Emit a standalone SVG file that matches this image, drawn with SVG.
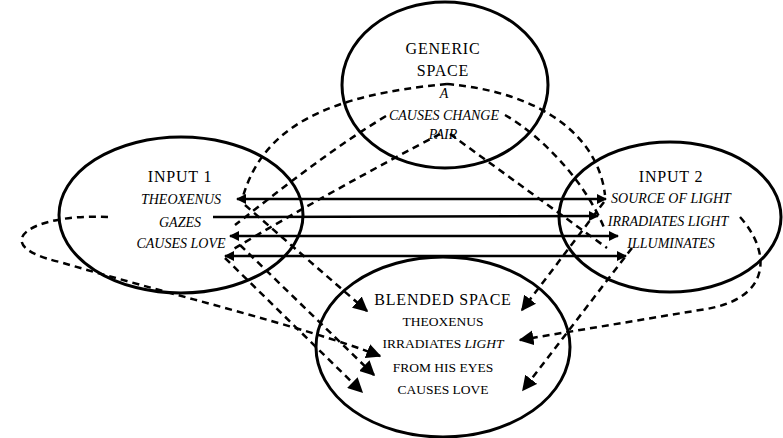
<svg xmlns="http://www.w3.org/2000/svg" width="783" height="438" viewBox="0 0 783 438">
<style>
.sp{fill:none;stroke:#000;stroke-width:3}
.hd{font-family:"Liberation Serif",serif;font-size:16px;letter-spacing:0.8px;text-anchor:middle;fill:#000}
.it{font-family:"Liberation Serif",serif;font-size:14px;font-style:italic;text-anchor:middle;fill:#000}
.bl{font-family:"Liberation Serif",serif;font-size:13.5px;text-anchor:middle;fill:#000}
.sl{fill:none;stroke:#000;stroke-width:2.5}
.dl{fill:none;stroke:#000;stroke-width:2.5;stroke-dasharray:7 5}
</style>
<defs>
<marker id="sa" viewBox="0 0 10 10" refX="9" refY="5" markerWidth="4" markerHeight="4" orient="auto-start-reverse" markerUnits="strokeWidth"><path d="M0,0 L10,5 L0,10 Z" fill="#000"/></marker>
<marker id="da" viewBox="0 0 10 10" refX="9" refY="5" markerWidth="6" markerHeight="6" orient="auto" markerUnits="strokeWidth"><path d="M0,0 L10,5 L0,10 Z" fill="#000"/></marker>
</defs>
<rect width="783" height="438" fill="#fff"/>
<g id="generic">
<ellipse class="sp" cx="445" cy="85" rx="103" ry="83"/>
<text class="hd" x="443" y="54">GENERIC</text>
<text class="hd" x="443" y="76">SPACE</text>
<text class="it" x="444" y="98">A</text>
<text class="it" x="444" y="120">CAUSES CHANGE</text>
<text class="it" x="443" y="139" font-size="8">PAIR</text>
</g>
<g id="input1">
<ellipse class="sp" cx="181" cy="215" rx="122" ry="78"/>
<text class="hd" x="180" y="182">INPUT 1</text>
<text class="it" x="181" y="204">THEOXENUS</text>
<text class="it" x="180" y="227">GAZES</text>
<text class="it" x="181" y="248">CAUSES LOVE</text>
</g>
<g id="input2">
<ellipse class="sp" cx="670" cy="217" rx="111" ry="75"/>
<text class="hd" x="671" y="182">INPUT 2</text>
<text class="it" x="671" y="203">SOURCE OF LIGHT</text>
<text class="it" x="668" y="226">IRRADIATES LIGHT</text>
<text class="it" x="671" y="248">ILLUMINATES</text>
</g>
<g id="blended">
<ellipse class="sp" cx="443" cy="347" rx="127" ry="90"/>
<text class="hd" x="443" y="305">BLENDED SPACE</text>
<text class="bl" x="443" y="326">THEOXENUS</text>
<text class="bl" x="443" y="348">IRRADIATES <tspan font-style="italic">LIGHT</tspan></text>
<text class="bl" x="443" y="372">FROM HIS EYES</text>
<text class="bl" x="443" y="394">CAUSES LOVE</text>
</g>
<g id="connectors">
<line class="sl" x1="237" y1="199" x2="606" y2="199" marker-start="url(#sa)" marker-end="url(#sa)"/>
<line class="sl" x1="213" y1="217" x2="598" y2="216" marker-end="url(#sa)"/>
<line class="sl" x1="230" y1="236" x2="618" y2="236" marker-start="url(#sa)" marker-end="url(#sa)"/>
<line class="sl" x1="225" y1="256" x2="626" y2="256" marker-start="url(#sa)" marker-end="url(#sa)"/>
<path class="dl" d="M447,84 C330,95 262,125 242,200"/>
<path class="dl" d="M386,116 C330,150 280,190 235,225"/>
<path class="dl" d="M440,134 C380,165 290,215 232,250"/>
<path class="dl" d="M447,84 C540,92 598,135 605,195"/>
<path class="dl" d="M505,115 C540,135 585,180 605,230"/>
<path class="dl" d="M450,134 L607,248"/>
<path class="dl" d="M245,205 L367,311" marker-end="url(#da)"/>
<path class="dl" d="M108,217 C30,213 -15,245 60,262 C160,292 300,325 380,356" marker-end="url(#da)"/>
<path class="dl" d="M240,245 L374,375" marker-end="url(#da)"/>
<path class="dl" d="M225,258 L362,392" marker-end="url(#da)"/>
<path class="dl" d="M604,202 L522,310" marker-end="url(#da)"/>
<path class="dl" d="M740,217 C770,250 775,300 700,310 L520,340" marker-end="url(#da)"/>
<path class="dl" d="M632,248 L523,390" marker-end="url(#da)"/>
</g>
</svg>
